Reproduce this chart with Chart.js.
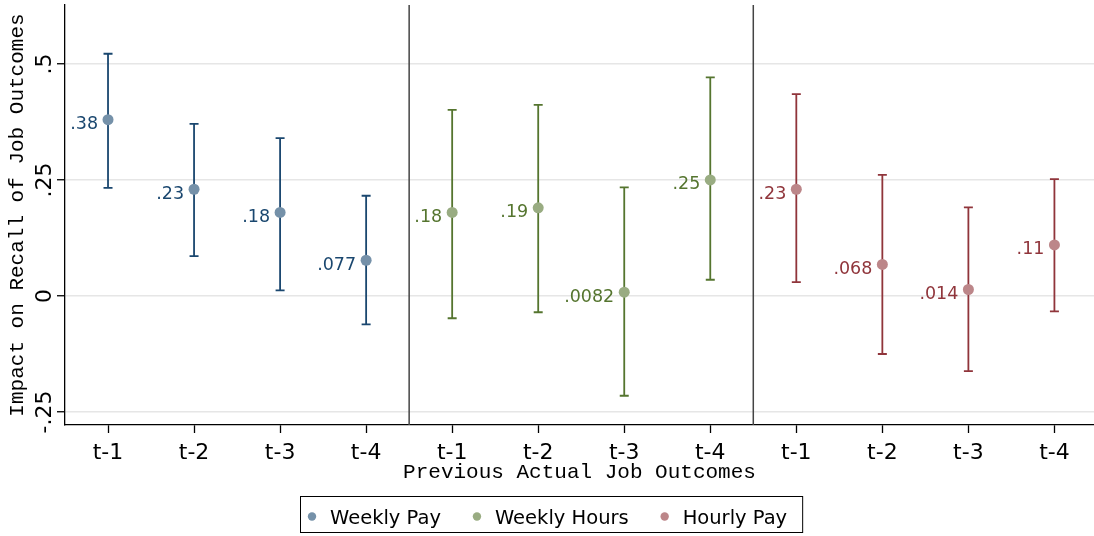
<!DOCTYPE html>
<html>
<head>
<meta charset="utf-8">
<script src="https://cdn.jsdelivr.net/npm/chart.js@4.4.1/dist/chart.umd.min.js"></script>
<style>
  html, body { margin: 0; padding: 0; background: #ffffff; }
  #wrap { width: 1094px; height: 536px; }
</style>
</head>
<body>
<div id="wrap"><canvas id="c" width="1094" height="536"></canvas></div>
<script>
// Categories and tick labels
const xTickLabels = ['t-1', 't-2', 't-3', 't-4', 't-1', 't-2', 't-3', 't-4', 't-1', 't-2', 't-3', 't-4'];
const yTickValues = [-0.25, 0, 0.25, 0.5];
const yTickLabels = ['-.25', '0', '.25', '.5'];
const seriesNames = ['Weekly Pay', 'Weekly Hours', 'Hourly Pay'];

// Point estimates and 95% confidence bounds, lags t-1 .. t-4
const weeklyPay      = [0.38, 0.23, 0.18, 0.077];
const weeklyPayLow   = [0.233, 0.086, 0.012, -0.061];
const weeklyPayHigh  = [0.522, 0.371, 0.340, 0.216];

const weeklyHours     = [0.18, 0.19, 0.0082, 0.25];
const weeklyHoursLow  = [-0.048, -0.035, -0.215, 0.035];
const weeklyHoursHigh = [0.401, 0.412, 0.234, 0.471];

const hourlyPay      = [0.23, 0.068, 0.014, 0.11];
const hourlyPayLow   = [0.030, -0.125, -0.162, -0.033];
const hourlyPayHigh  = [0.435, 0.261, 0.191, 0.252];

// Stata s2color palette: line colour and lighter marker fill
const lineColors   = ['#1a476f', '#55752f', '#90353b'];
const markerColors = ['#7591a9', '#99ac82', '#bc8689'];

const estimates = [weeklyPay, weeklyHours, hourlyPay];
const lows = [weeklyPayLow, weeklyHoursLow, hourlyPayLow];
const highs = [weeklyPayHigh, weeklyHoursHigh, hourlyPayHigh];

const fmt = v => String(v).replace(/^(-?)0\./, '$1.');

const datasets = estimates.map((vals, g) => ({
  label: seriesNames[g],
  data: vals.map((v, i) => ({ x: g * 4 + i, y: v, lo: lows[g][i], hi: highs[g][i] })),
  showLine: false,
  pointRadius: 5.5,
  pointHoverRadius: 5.5,
  pointBackgroundColor: markerColors[g],
  pointBorderWidth: 0,
  borderColor: lineColors[g],
  backgroundColor: markerColors[g]
}));

// Confidence intervals with caps, plus the group separators
const intervalPlugin = {
  id: 'intervals',
  beforeDatasetsDraw(chart) {
    const { ctx, chartArea, scales: { x, y } } = chart;
    ctx.save();
    ctx.strokeStyle = '#444444';
    ctx.lineWidth = 1.5;
    [3.5, 7.5].forEach(v => {
      const px = x.getPixelForValue(v);
      ctx.beginPath();
      ctx.moveTo(px, chartArea.top);
      ctx.lineTo(px, chartArea.bottom);
      ctx.stroke();
    });
    chart.data.datasets.forEach((ds, g) => {
      ctx.strokeStyle = lineColors[g];
      ctx.lineWidth = 1.8;
      ds.data.forEach(d => {
        const px = x.getPixelForValue(d.x);
        const yl = y.getPixelForValue(d.lo);
        const yh = y.getPixelForValue(d.hi);
        ctx.beginPath();
        ctx.moveTo(px, yl); ctx.lineTo(px, yh);
        ctx.moveTo(px - 4.5, yl); ctx.lineTo(px + 4.5, yl);
        ctx.moveTo(px - 4.5, yh); ctx.lineTo(px + 4.5, yh);
        ctx.stroke();
      });
    });
    ctx.restore();
  },
  afterDatasetsDraw(chart) {
    const { ctx } = chart;
    ctx.save();
    ctx.font = '17.5px "DejaVu Sans"';
    ctx.textAlign = 'right';
    ctx.textBaseline = 'alphabetic';
    chart.data.datasets.forEach((ds, g) => {
      const meta = chart.getDatasetMeta(g);
      ctx.fillStyle = lineColors[g];
      meta.data.forEach((pt, i) => {
        ctx.fillText(fmt(ds.data[i].y), pt.x - 10, pt.y + 9.5);
      });
    });
    ctx.restore();
  }
};

// Boxed legend below the axis title
const legendPlugin = {
  id: 'boxLegend',
  afterDraw(chart) {
    const { ctx } = chart;
    ctx.save();
    ctx.font = '19.5px "DejaVu Sans"';
    ctx.textBaseline = 'alphabetic';
    ctx.textAlign = 'left';
    const left = 300, top = 496, h = 36;
    let xPos = left + 12;
    let textEnd = xPos;
    seriesNames.forEach((name, g) => {
      ctx.fillStyle = markerColors[g];
      ctx.beginPath();
      ctx.arc(xPos, top + 20.5, 4.2, 0, Math.PI * 2);
      ctx.fill();
      ctx.fillStyle = '#000';
      const tx = xPos + 18;
      ctx.fillText(name, tx, top + 27.5);
      textEnd = tx + ctx.measureText(name).width;
      xPos = textEnd + 36;
    });
    const right = textEnd + 15;
    ctx.strokeStyle = '#000';
    ctx.lineWidth = 1;
    ctx.strokeRect(left + 0.5, top + 0.5, right - left, h);
    ctx.restore();
  }
};

Chart.defaults.font.family = '"DejaVu Sans"';
Chart.defaults.color = '#000';

new Chart(document.getElementById('c'), {
  type: 'scatter',
  data: { datasets },
  options: {
    responsive: false,
    animation: false,
    events: [],
    layout: { autoPadding: false, padding: { top: 5, right: 0, left: 0, bottom: 0 } },
    plugins: { legend: { display: false }, tooltip: { enabled: false } },
    scales: {
      x: {
        type: 'linear',
        min: -0.5,
        max: 11.46,
        afterBuildTicks: s => { s.ticks = xTickLabels.map((_, i) => ({ value: i })); },
        afterFit: s => { s.height = 111; s.paddingLeft = 0; s.paddingRight = 0; },
        ticks: {
          callback: v => xTickLabels[v],
          font: { size: 22 },
          color: '#000',
          padding: 7,
          maxRotation: 0,
          autoSkip: false
        },
        grid: { drawOnChartArea: false, drawTicks: true, tickLength: 8, tickColor: '#000', tickWidth: 1.3 },
        border: { display: true, color: '#000', width: 1.3 },
        title: {
          display: true,
          text: 'Previous Actual Job Outcomes',
          font: { family: '"Liberation Mono"', size: 21 },
          color: '#000',
          padding: { top: 0, bottom: 51 }
        }
      },
      y: {
        type: 'linear',
        min: -0.278,
        max: 0.627,
        afterBuildTicks: s => { s.ticks = yTickValues.map(v => ({ value: v })); },
        afterFit: s => { s.width = 65; s.paddingTop = 0; s.paddingBottom = 0; },
        ticks: {
          callback: v => yTickLabels[yTickValues.indexOf(v)],
          font: { size: 22 },
          color: '#000',
          minRotation: 90,
          maxRotation: 90,
          crossAlign: 'center',
          padding: -10
        },
        grid: { color: '#e6e6e6', lineWidth: 1.5, tickLength: 8, tickColor: '#000', tickWidth: 1.3 },
        border: { display: true, color: '#000', width: 1.3 },
        title: {
          display: true,
          text: 'Impact on Recall of Job Outcomes',
          font: { family: '"Liberation Mono"', size: 21 },
          color: '#000',
          padding: { top: 5, bottom: 0 }
        }
      }
    }
  },
  plugins: [intervalPlugin, legendPlugin]
});
</script>
</body>
</html>
